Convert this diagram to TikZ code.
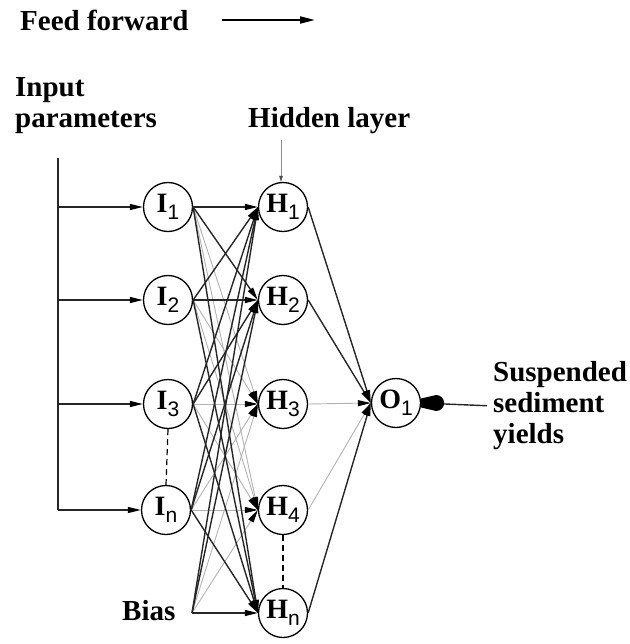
\documentclass[tikz,border=0pt]{standalone}
\usepackage{fontspec}
\setmainfont{Liberation Serif}
\setsansfont{Liberation Sans}
\usetikzlibrary{arrows.meta,calc}
\newcommand\nsub[1]{\raisebox{-7pt}{\fontsize{21}{21}\selectfont\sffamily\mdseries #1}}
\begin{document}
\begin{tikzpicture}[x=1pt,y=-1pt,
  neuron/.style={circle,draw,line width=1.3pt,minimum size=49pt,inner sep=0pt,font=\fontsize{28}{28}\selectfont\bfseries},
  lbl/.style={font=\fontsize{29}{31}\selectfont\bfseries,inner sep=0pt,align=left},
  tipk/.style={-{Triangle[length=13pt,width=6pt,color=black]}},
  blk/.style={tipk,line width=1.4pt,black!85},
  gry/.style={tipk,line width=0.9pt,black!30},
]
\useasboundingbox (0,0) rectangle (629,644);

% titles
\node[lbl,anchor=base west] (ff) at (20,31) {Feed forward};
\coordinate (ffa) at (222,20);
\coordinate (ffb) at (315,20);
\draw[line width=2pt,-{Triangle[length=15pt,width=7pt]}] (ffa) -- (ffb);

\node[lbl,anchor=west] (inp) at (15,106) {Input\\parameters};
\node[lbl,anchor=base west] (hid) at (248,128) {Hidden layer};
\node[lbl,anchor=west] (ssy) at (493,406) {Suspended\\sediment\\yields};
\node[lbl,anchor=base west] (bias) at (122,620) {Bias};

% neurons
\node[neuron] (I1) at (168,207) {I\nsub{1}};
\node[neuron] (I2) at (168,300) {I\nsub{2}};
\node[neuron] (I3) at (168,404) {I\nsub{3}};
\node[neuron] (In) at (166,510) {I\nsub{n}};
\node[neuron] (H1) at (283,207) {H\nsub{1}};
\node[neuron] (H2) at (283,300) {H\nsub{2}};
\node[neuron] (H3) at (283,404) {H\nsub{3}};
\node[neuron] (H4) at (283,510) {H\nsub{4}};
\node[neuron] (Hn) at (283,613) {H\nsub{n}};
\node[neuron] (O1) at (396,403) {O\nsub{1}};
\coordinate (bp) at (192,613);

% input bus
\coordinate (top) at (58,158);
\draw[blk,-] (top) -- (top |- In.west);
\foreach \i in {I1,I2,I3,In}
  \draw[blk] (top |- \i.west) -- (\i.west);

% hidden layer pointer
\coordinate (hl) at (281,140);
\draw[black!45,line width=0.7pt,-{Triangle[length=6pt,width=3.5pt,color=black!70]}] (hl) -- (hl |- H1.north);

% dashed
\draw[line width=1.2pt,dash pattern=on 6pt off 4pt] (I3.south) -- (In.north);
\draw[line width=1.2pt,dash pattern=on 6pt off 4pt] (H4.south) -- (Hn.north);

% input -> hidden
\foreach \s in {I1.east,I2.east,I3.east,In.east,bp}{
  \foreach \h in {H3,H4}
    \draw[gry] (\s) -- (\h.west);
}
\foreach \s in {I1.east,I2.east,I3.east,In.east,bp}{
  \foreach \h in {H1,H2,Hn}
    \draw[blk] (\s) -- (\h.west);
}

% hidden -> output
\foreach \h in {H3,H4}
  \draw[gry] (\h.east) -- (O1.west);
\foreach \h in {H1,H2,Hn}
  \draw[blk] (\h.east) -- (O1.west);

% output
\draw[line width=1.4pt,black!85,shorten <=6pt] (ssy.west) -- (O1.east);
\fill ($(O1.east)+(0,-4.5)$) -- ++(15,-3.5) arc[start angle=-90,end angle=90,radius=8] -- ($(O1.east)+(0,4.5)$) -- cycle;
\end{tikzpicture}
\end{document}
